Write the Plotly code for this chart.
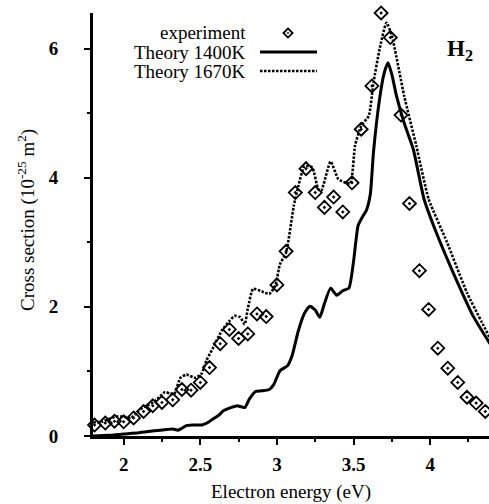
import plotly.graph_objects as go

# Measured electron-impact cross sections for H2
exp_energy = [1.81, 1.88, 1.94, 2.00, 2.065, 2.13, 2.19, 2.25, 2.32, 2.38, 2.44, 2.50,
              2.56, 2.63, 2.69, 2.75, 2.81, 2.87, 2.93, 3.00, 3.06, 3.12, 3.19, 3.25,
              3.31, 3.37, 3.43, 3.49, 3.55, 3.62, 3.68, 3.74, 3.81, 3.865, 3.93, 3.99,
              4.05, 4.115, 4.18, 4.24, 4.30, 4.36]
exp_cross = [0.17, 0.20, 0.23, 0.22, 0.28, 0.38, 0.47, 0.52, 0.56, 0.72, 0.71, 0.83,
             1.06, 1.43, 1.65, 1.51, 1.58, 1.89, 1.85, 2.34, 2.86, 3.77, 4.14, 3.77,
             3.54, 3.70, 3.47, 3.92, 4.75, 5.42, 6.55, 6.17, 4.97, 3.60, 2.56, 1.96,
             1.36, 1.05, 0.83, 0.60, 0.51, 0.38]

# Theory, vibrational temperature 1400 K
th1400_energy = [1.80, 1.90, 2.00, 2.10, 2.20, 2.28, 2.32, 2.355, 2.38, 2.41, 2.45, 2.51,
                 2.55, 2.58, 2.62, 2.65, 2.70, 2.74, 2.79, 2.82, 2.86, 2.90, 2.95, 2.98,
                 3.02, 3.07, 3.10, 3.14, 3.18, 3.215, 3.25, 3.28, 3.31, 3.35, 3.39, 3.43,
                 3.47, 3.50, 3.53, 3.56, 3.585, 3.61, 3.63, 3.67, 3.70, 3.725, 3.75, 3.78,
                 3.83, 3.89, 3.96, 4.04, 4.15, 4.28, 4.39]
th1400_cross = [0.00, 0.01, 0.03, 0.05, 0.08, 0.10, 0.11, 0.09, 0.12, 0.16, 0.17, 0.17,
                0.21, 0.26, 0.32, 0.39, 0.44, 0.47, 0.44, 0.57, 0.69, 0.70, 0.72, 0.80,
                1.01, 1.09, 1.25, 1.63, 1.90, 2.01, 1.95, 1.84, 2.05, 2.29, 2.18, 2.25,
                2.29, 2.70, 3.26, 3.40, 3.50, 3.75, 4.39, 5.22, 5.62, 5.78, 5.60, 5.27,
                4.85, 4.44, 3.67, 3.15, 2.53, 1.86, 1.43]

# Theory, vibrational temperature 1670 K
th1670_energy = [1.80, 1.86, 1.90, 1.95, 2.00, 2.05, 2.10, 2.15, 2.20, 2.27, 2.30, 2.33,
                 2.37, 2.41, 2.47, 2.51, 2.54, 2.58, 2.64, 2.69, 2.725, 2.76, 2.79, 2.81,
                 2.845, 2.90, 2.95, 2.99, 3.02, 3.06, 3.11, 3.14, 3.18, 3.23, 3.27, 3.29,
                 3.35, 3.40, 3.44, 3.48, 3.51, 3.55, 3.60, 3.63, 3.67, 3.715, 3.75, 3.83,
                 3.91, 3.99, 4.11, 4.24, 4.39]
th1670_cross = [0.21, 0.22, 0.26, 0.30, 0.30, 0.28, 0.40, 0.47, 0.53, 0.68, 0.66, 0.65,
                0.90, 0.95, 0.90, 0.97, 1.17, 1.35, 1.63, 1.78, 1.86, 1.84, 1.73, 1.97,
                2.28, 2.24, 2.20, 2.33, 2.66, 2.84, 3.56, 3.87, 4.18, 4.16, 3.82, 3.80,
                4.25, 3.98, 3.93, 3.91, 4.50, 4.80, 4.96, 5.47, 5.99, 6.40, 6.20, 5.27,
                4.49, 3.67, 3.00, 2.22, 1.52]

x_ticks = [2, 2.5, 3, 3.5, 4]
x_tick_labels = ["2", "2.5", "3", "3.5", "4"]
y_ticks = [0, 2, 4, 6]
y_tick_labels = ["0", "2", "4", "6"]
legend_labels = ["experiment", "Theory 1400K", "Theory 1670K"]

W, H = 489, 504
ML, MR, MT, MB = 93, 0, 13, 68
PW, PH = W - ML - MR, H - MT - MB
FONT = "Liberation Serif, Times New Roman, serif"


def px(x):
    return (x - ML) / PW


def py(y):
    return (H - MB - y) / PH


fig = go.Figure()

fig.add_trace(go.Scatter(
    x=th1670_energy, y=th1670_cross, mode="lines", name=legend_labels[2],
    line=dict(color="black", width=2.6, dash="2.5px,1.5px", shape="spline", smoothing=0.5),
))
fig.add_trace(go.Scatter(
    x=th1400_energy, y=th1400_cross, mode="lines", name=legend_labels[1],
    line=dict(color="black", width=3, shape="spline", smoothing=0.5),
))
fig.add_trace(go.Scatter(
    x=exp_energy, y=exp_cross, mode="markers", name=legend_labels[0],
    marker=dict(symbol="diamond-open-dot", size=10, color="black",
                line=dict(color="black", width=1.8)),
    cliponaxis=False,
))

# Hand-built legend: right-aligned labels with the sample to their right
annotations = []
shapes = []
rows_y = [33, 52, 71]
for label, yy in zip(legend_labels, rows_y):
    annotations.append(dict(
        x=px(248), y=py(yy), xref="paper", yref="paper", text=label,
        showarrow=False, xanchor="right", yanchor="middle",
        font=dict(family=FONT, size=19, color="black"),
    ))

# diamond sample
cx, cy, r = 288, 33, 4.6
shapes.append(dict(
    type="path", xref="paper", yref="paper",
    path=(f"M {px(cx)} {py(cy - r)} L {px(cx + r)} {py(cy)} "
          f"L {px(cx)} {py(cy + r)} L {px(cx - r)} {py(cy)} Z"),
    line=dict(color="black", width=1.8), fillcolor="rgba(0,0,0,0)",
))
shapes.append(dict(
    type="circle", xref="paper", yref="paper",
    x0=px(cx - 0.8), x1=px(cx + 0.8), y0=py(cy + 0.8), y1=py(cy - 0.8),
    line=dict(color="black", width=0.5), fillcolor="black",
))
# solid sample
shapes.append(dict(type="line", xref="paper", yref="paper",
                   x0=px(260), x1=px(317), y0=py(52), y1=py(52),
                   line=dict(color="black", width=3)))
# dotted sample
shapes.append(dict(type="line", xref="paper", yref="paper",
                   x0=px(260), x1=px(317), y0=py(71), y1=py(71),
                   line=dict(color="black", width=2.6, dash="2.5px,1.5px")))

# species label
annotations.append(dict(
    x=px(460), y=py(50), xref="paper", yref="paper",
    text="<b>H<sub>2</sub></b>", showarrow=False,
    xanchor="center", yanchor="middle",
    font=dict(family=FONT, size=23, color="black"),
))

# axis titles
annotations.append(dict(
    x=px(291), y=py(492), xref="paper", yref="paper",
    text="Electron energy (eV)", showarrow=False,
    xanchor="center", yanchor="middle",
    font=dict(family=FONT, size=19, color="black"),
))
annotations.append(dict(
    x=px(26), y=py(220), xref="paper", yref="paper",
    text="Cross section (10<sup>-25</sup> m<sup>2</sup>)", showarrow=False,
    textangle=-90, xanchor="center", yanchor="middle",
    font=dict(family=FONT, size=19, color="black"),
))

fig.update_layout(
    width=W, height=H,
    margin=dict(l=ML, r=MR, t=MT, b=MB),
    paper_bgcolor="white", plot_bgcolor="white",
    showlegend=False,
    annotations=annotations, shapes=shapes,
    font=dict(family=FONT, color="black"),
)

fig.update_xaxes(
    range=[1.8, 4.384], showgrid=False, zeroline=False,
    showline=True, linewidth=3, linecolor="black",
    tickmode="array", tickvals=x_ticks, ticktext=x_tick_labels,
    ticks="outside", ticklen=6, tickwidth=2, tickcolor="black",
    ticklabelstandoff=3,
    tickfont=dict(family=FONT, size=19, color="black", weight="bold"),
    minor=dict(dtick=0.25, tick0=2, ticks="outside", ticklen=3, tickwidth=2, tickcolor="black"),
)
fig.update_yaxes(
    range=[0, 6.55], showgrid=False, zeroline=False,
    showline=True, linewidth=3, linecolor="black",
    tickmode="array", tickvals=y_ticks, ticktext=y_tick_labels,
    ticks="outside", ticklen=6, tickwidth=2, tickcolor="black",
    ticklabelstandoff=22,
    tickfont=dict(family=FONT, size=19, color="black", weight="bold"),
    minor=dict(dtick=1, tick0=0, ticks="outside", ticklen=3, tickwidth=2, tickcolor="black"),
)

fig.write_html("out.html")
